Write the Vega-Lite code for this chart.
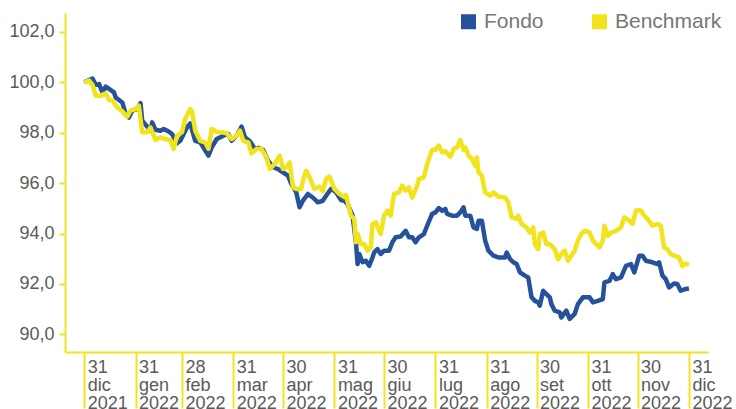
{
  "$schema": "https://vega.github.io/schema/vega-lite/v6.json",
  "width": 643,
  "height": 339,
  "autosize": {"type": "none"},
  "padding": {"left": 65, "top": 13, "right": 28, "bottom": 57},
  "background": "white",
  "config": {
    "view": {"stroke": null},
    "font": "Liberation Sans"
  },
  "data": {
    "values": [
      {"data": "2021-12-31", "serie": "Fondo", "valore": 100.0},
      {"data": "2022-01-05", "serie": "Fondo", "valore": 100.15},
      {"data": "2022-01-07", "serie": "Fondo", "valore": 99.9},
      {"data": "2022-01-09", "serie": "Fondo", "valore": 99.93},
      {"data": "2022-01-11", "serie": "Fondo", "valore": 99.6},
      {"data": "2022-01-13", "serie": "Fondo", "valore": 99.83},
      {"data": "2022-01-15", "serie": "Fondo", "valore": 99.74},
      {"data": "2022-01-18", "serie": "Fondo", "valore": 99.6},
      {"data": "2022-01-19", "serie": "Fondo", "valore": 99.4},
      {"data": "2022-01-23", "serie": "Fondo", "valore": 99.2},
      {"data": "2022-01-25", "serie": "Fondo", "valore": 98.75},
      {"data": "2022-01-27", "serie": "Fondo", "valore": 98.6},
      {"data": "2022-01-29", "serie": "Fondo", "valore": 98.88},
      {"data": "2022-02-01", "serie": "Fondo", "valore": 98.94},
      {"data": "2022-02-03", "serie": "Fondo", "valore": 99.17},
      {"data": "2022-02-04", "serie": "Fondo", "valore": 98.48},
      {"data": "2022-02-07", "serie": "Fondo", "valore": 98.24},
      {"data": "2022-02-09", "serie": "Fondo", "valore": 98.08},
      {"data": "2022-02-10", "serie": "Fondo", "valore": 98.41},
      {"data": "2022-02-12", "serie": "Fondo", "valore": 98.12},
      {"data": "2022-02-15", "serie": "Fondo", "valore": 98.08},
      {"data": "2022-02-17", "serie": "Fondo", "valore": 98.15},
      {"data": "2022-02-20", "serie": "Fondo", "valore": 98.05},
      {"data": "2022-02-22", "serie": "Fondo", "valore": 97.95},
      {"data": "2022-02-25", "serie": "Fondo", "valore": 97.58},
      {"data": "2022-02-27", "serie": "Fondo", "valore": 97.68},
      {"data": "2022-03-03", "serie": "Fondo", "valore": 98.21},
      {"data": "2022-03-05", "serie": "Fondo", "valore": 98.37},
      {"data": "2022-03-08", "serie": "Fondo", "valore": 97.68},
      {"data": "2022-03-11", "serie": "Fondo", "valore": 97.62},
      {"data": "2022-03-16", "serie": "Fondo", "valore": 97.09},
      {"data": "2022-03-18", "serie": "Fondo", "valore": 97.42},
      {"data": "2022-03-21", "serie": "Fondo", "valore": 97.75},
      {"data": "2022-03-25", "serie": "Fondo", "valore": 97.88},
      {"data": "2022-03-28", "serie": "Fondo", "valore": 97.95},
      {"data": "2022-03-30", "serie": "Fondo", "valore": 97.68},
      {"data": "2022-04-02", "serie": "Fondo", "valore": 97.88},
      {"data": "2022-04-05", "serie": "Fondo", "valore": 98.24},
      {"data": "2022-04-07", "serie": "Fondo", "valore": 97.82},
      {"data": "2022-04-10", "serie": "Fondo", "valore": 97.66},
      {"data": "2022-04-13", "serie": "Fondo", "valore": 97.36},
      {"data": "2022-04-15", "serie": "Fondo", "valore": 97.4},
      {"data": "2022-04-18", "serie": "Fondo", "valore": 97.32},
      {"data": "2022-04-21", "serie": "Fondo", "valore": 96.89},
      {"data": "2022-04-24", "serie": "Fondo", "valore": 96.63},
      {"data": "2022-04-27", "serie": "Fondo", "valore": 96.56},
      {"data": "2022-04-30", "serie": "Fondo", "valore": 96.43},
      {"data": "2022-05-03", "serie": "Fondo", "valore": 96.3},
      {"data": "2022-05-05", "serie": "Fondo", "valore": 95.97},
      {"data": "2022-05-08", "serie": "Fondo", "valore": 95.63},
      {"data": "2022-05-10", "serie": "Fondo", "valore": 95.04},
      {"data": "2022-05-12", "serie": "Fondo", "valore": 95.3},
      {"data": "2022-05-15", "serie": "Fondo", "valore": 95.57},
      {"data": "2022-05-18", "serie": "Fondo", "valore": 95.43},
      {"data": "2022-05-21", "serie": "Fondo", "valore": 95.24},
      {"data": "2022-05-24", "serie": "Fondo", "valore": 95.3},
      {"data": "2022-05-26", "serie": "Fondo", "valore": 95.5},
      {"data": "2022-05-29", "serie": "Fondo", "valore": 95.77},
      {"data": "2022-06-01", "serie": "Fondo", "valore": 95.64},
      {"data": "2022-06-04", "serie": "Fondo", "valore": 95.33},
      {"data": "2022-06-06", "serie": "Fondo", "valore": 95.3},
      {"data": "2022-06-08", "serie": "Fondo", "valore": 95.17},
      {"data": "2022-06-11", "serie": "Fondo", "valore": 94.71},
      {"data": "2022-06-13", "serie": "Fondo", "valore": 93.65},
      {"data": "2022-06-14", "serie": "Fondo", "valore": 92.79},
      {"data": "2022-06-15", "serie": "Fondo", "valore": 93.19},
      {"data": "2022-06-17", "serie": "Fondo", "valore": 92.86},
      {"data": "2022-06-19", "serie": "Fondo", "valore": 92.92},
      {"data": "2022-06-21", "serie": "Fondo", "valore": 92.72},
      {"data": "2022-06-23", "serie": "Fondo", "valore": 93.05},
      {"data": "2022-06-24", "serie": "Fondo", "valore": 93.25},
      {"data": "2022-06-26", "serie": "Fondo", "valore": 93.38},
      {"data": "2022-06-28", "serie": "Fondo", "valore": 93.19},
      {"data": "2022-06-30", "serie": "Fondo", "valore": 93.32},
      {"data": "2022-07-03", "serie": "Fondo", "valore": 93.32},
      {"data": "2022-07-05", "serie": "Fondo", "valore": 93.65},
      {"data": "2022-07-07", "serie": "Fondo", "valore": 93.85},
      {"data": "2022-07-10", "serie": "Fondo", "valore": 93.88},
      {"data": "2022-07-13", "serie": "Fondo", "valore": 94.11},
      {"data": "2022-07-15", "serie": "Fondo", "valore": 93.85},
      {"data": "2022-07-17", "serie": "Fondo", "valore": 93.85},
      {"data": "2022-07-19", "serie": "Fondo", "valore": 93.65},
      {"data": "2022-07-21", "serie": "Fondo", "valore": 93.85},
      {"data": "2022-07-24", "serie": "Fondo", "valore": 93.98},
      {"data": "2022-07-26", "serie": "Fondo", "valore": 94.31},
      {"data": "2022-07-29", "serie": "Fondo", "valore": 94.78},
      {"data": "2022-07-31", "serie": "Fondo", "valore": 94.84},
      {"data": "2022-08-02", "serie": "Fondo", "valore": 95.01},
      {"data": "2022-08-04", "serie": "Fondo", "valore": 94.9},
      {"data": "2022-08-06", "serie": "Fondo", "valore": 94.97},
      {"data": "2022-08-07", "serie": "Fondo", "valore": 94.78},
      {"data": "2022-08-10", "serie": "Fondo", "valore": 94.71},
      {"data": "2022-08-13", "serie": "Fondo", "valore": 94.71},
      {"data": "2022-08-15", "serie": "Fondo", "valore": 94.84},
      {"data": "2022-08-17", "serie": "Fondo", "valore": 95.04},
      {"data": "2022-08-18", "serie": "Fondo", "valore": 94.71},
      {"data": "2022-08-21", "serie": "Fondo", "valore": 94.71},
      {"data": "2022-08-23", "serie": "Fondo", "valore": 94.24},
      {"data": "2022-08-25", "serie": "Fondo", "valore": 94.18},
      {"data": "2022-08-26", "serie": "Fondo", "valore": 94.51},
      {"data": "2022-08-28", "serie": "Fondo", "valore": 94.51},
      {"data": "2022-08-30", "serie": "Fondo", "valore": 93.72},
      {"data": "2022-09-01", "serie": "Fondo", "valore": 93.32},
      {"data": "2022-09-04", "serie": "Fondo", "valore": 93.12},
      {"data": "2022-09-07", "serie": "Fondo", "valore": 93.05},
      {"data": "2022-09-11", "serie": "Fondo", "valore": 93.05},
      {"data": "2022-09-12", "serie": "Fondo", "valore": 93.25},
      {"data": "2022-09-14", "serie": "Fondo", "valore": 92.99},
      {"data": "2022-09-16", "serie": "Fondo", "valore": 92.86},
      {"data": "2022-09-18", "serie": "Fondo", "valore": 92.79},
      {"data": "2022-09-20", "serie": "Fondo", "valore": 92.46},
      {"data": "2022-09-23", "serie": "Fondo", "valore": 92.33},
      {"data": "2022-09-25", "serie": "Fondo", "valore": 92.26},
      {"data": "2022-09-27", "serie": "Fondo", "valore": 91.47},
      {"data": "2022-09-29", "serie": "Fondo", "valore": 91.33},
      {"data": "2022-10-01", "serie": "Fondo", "valore": 91.27},
      {"data": "2022-10-02", "serie": "Fondo", "valore": 91.14},
      {"data": "2022-10-04", "serie": "Fondo", "valore": 91.73},
      {"data": "2022-10-06", "serie": "Fondo", "valore": 91.6},
      {"data": "2022-10-08", "serie": "Fondo", "valore": 91.47},
      {"data": "2022-10-09", "serie": "Fondo", "valore": 91.2},
      {"data": "2022-10-11", "serie": "Fondo", "valore": 90.94},
      {"data": "2022-10-14", "serie": "Fondo", "valore": 90.87},
      {"data": "2022-10-15", "serie": "Fondo", "valore": 90.67},
      {"data": "2022-10-18", "serie": "Fondo", "valore": 90.94},
      {"data": "2022-10-20", "serie": "Fondo", "valore": 90.61},
      {"data": "2022-10-23", "serie": "Fondo", "valore": 90.81},
      {"data": "2022-10-25", "serie": "Fondo", "valore": 91.2},
      {"data": "2022-10-28", "serie": "Fondo", "valore": 91.47},
      {"data": "2022-11-01", "serie": "Fondo", "valore": 91.47},
      {"data": "2022-11-03", "serie": "Fondo", "valore": 91.27},
      {"data": "2022-11-06", "serie": "Fondo", "valore": 91.33},
      {"data": "2022-11-09", "serie": "Fondo", "valore": 91.4},
      {"data": "2022-11-10", "serie": "Fondo", "valore": 92.06},
      {"data": "2022-11-13", "serie": "Fondo", "valore": 92.12},
      {"data": "2022-11-15", "serie": "Fondo", "valore": 92.39},
      {"data": "2022-11-17", "serie": "Fondo", "valore": 92.19},
      {"data": "2022-11-20", "serie": "Fondo", "valore": 92.26},
      {"data": "2022-11-23", "serie": "Fondo", "valore": 92.72},
      {"data": "2022-11-26", "serie": "Fondo", "valore": 92.79},
      {"data": "2022-11-28", "serie": "Fondo", "valore": 92.46},
      {"data": "2022-12-01", "serie": "Fondo", "valore": 93.12},
      {"data": "2022-12-03", "serie": "Fondo", "valore": 93.12},
      {"data": "2022-12-05", "serie": "Fondo", "valore": 92.92},
      {"data": "2022-12-09", "serie": "Fondo", "valore": 92.86},
      {"data": "2022-12-12", "serie": "Fondo", "valore": 92.79},
      {"data": "2022-12-13", "serie": "Fondo", "valore": 92.86},
      {"data": "2022-12-15", "serie": "Fondo", "valore": 92.33},
      {"data": "2022-12-17", "serie": "Fondo", "valore": 92.19},
      {"data": "2022-12-19", "serie": "Fondo", "valore": 91.86},
      {"data": "2022-12-22", "serie": "Fondo", "valore": 92.02},
      {"data": "2022-12-24", "serie": "Fondo", "valore": 92.0},
      {"data": "2022-12-26", "serie": "Fondo", "valore": 91.73},
      {"data": "2022-12-29", "serie": "Fondo", "valore": 91.8},
      {"data": "2022-12-31", "serie": "Fondo", "valore": 91.82},
      {"data": "2021-12-31", "serie": "Benchmark", "valore": 100.0},
      {"data": "2022-01-03", "serie": "Benchmark", "valore": 100.07},
      {"data": "2022-01-05", "serie": "Benchmark", "valore": 99.9},
      {"data": "2022-01-07", "serie": "Benchmark", "valore": 99.47},
      {"data": "2022-01-10", "serie": "Benchmark", "valore": 99.47},
      {"data": "2022-01-13", "serie": "Benchmark", "valore": 99.56},
      {"data": "2022-01-15", "serie": "Benchmark", "valore": 99.3},
      {"data": "2022-01-17", "serie": "Benchmark", "valore": 99.28},
      {"data": "2022-01-20", "serie": "Benchmark", "valore": 99.0},
      {"data": "2022-01-23", "serie": "Benchmark", "valore": 98.85},
      {"data": "2022-01-26", "serie": "Benchmark", "valore": 98.64},
      {"data": "2022-01-28", "serie": "Benchmark", "valore": 98.88},
      {"data": "2022-01-31", "serie": "Benchmark", "valore": 98.94},
      {"data": "2022-02-02", "serie": "Benchmark", "valore": 99.07},
      {"data": "2022-02-04", "serie": "Benchmark", "valore": 98.02},
      {"data": "2022-02-07", "serie": "Benchmark", "valore": 98.02},
      {"data": "2022-02-09", "serie": "Benchmark", "valore": 98.21},
      {"data": "2022-02-12", "serie": "Benchmark", "valore": 97.71},
      {"data": "2022-02-15", "serie": "Benchmark", "valore": 97.82},
      {"data": "2022-02-18", "serie": "Benchmark", "valore": 97.75},
      {"data": "2022-02-21", "serie": "Benchmark", "valore": 97.71},
      {"data": "2022-02-23", "serie": "Benchmark", "valore": 97.36},
      {"data": "2022-02-25", "serie": "Benchmark", "valore": 97.88},
      {"data": "2022-02-28", "serie": "Benchmark", "valore": 98.02},
      {"data": "2022-03-02", "serie": "Benchmark", "valore": 98.55},
      {"data": "2022-03-05", "serie": "Benchmark", "valore": 98.94},
      {"data": "2022-03-06", "serie": "Benchmark", "valore": 98.88},
      {"data": "2022-03-08", "serie": "Benchmark", "valore": 98.08},
      {"data": "2022-03-11", "serie": "Benchmark", "valore": 97.68},
      {"data": "2022-03-14", "serie": "Benchmark", "valore": 97.62},
      {"data": "2022-03-16", "serie": "Benchmark", "valore": 97.36},
      {"data": "2022-03-18", "serie": "Benchmark", "valore": 98.15},
      {"data": "2022-03-21", "serie": "Benchmark", "valore": 98.02},
      {"data": "2022-03-24", "serie": "Benchmark", "valore": 98.02},
      {"data": "2022-03-27", "serie": "Benchmark", "valore": 97.98},
      {"data": "2022-03-30", "serie": "Benchmark", "valore": 97.75},
      {"data": "2022-04-02", "serie": "Benchmark", "valore": 97.88},
      {"data": "2022-04-04", "serie": "Benchmark", "valore": 98.08},
      {"data": "2022-04-06", "serie": "Benchmark", "valore": 97.68},
      {"data": "2022-04-09", "serie": "Benchmark", "valore": 97.62},
      {"data": "2022-04-11", "serie": "Benchmark", "valore": 97.18},
      {"data": "2022-04-14", "serie": "Benchmark", "valore": 97.36},
      {"data": "2022-04-17", "serie": "Benchmark", "valore": 97.36},
      {"data": "2022-04-20", "serie": "Benchmark", "valore": 97.02},
      {"data": "2022-04-22", "serie": "Benchmark", "valore": 96.56},
      {"data": "2022-04-25", "serie": "Benchmark", "valore": 96.76},
      {"data": "2022-04-28", "serie": "Benchmark", "valore": 97.09},
      {"data": "2022-04-30", "serie": "Benchmark", "valore": 96.56},
      {"data": "2022-05-02", "serie": "Benchmark", "valore": 96.63},
      {"data": "2022-05-04", "serie": "Benchmark", "valore": 96.82},
      {"data": "2022-05-06", "serie": "Benchmark", "valore": 95.83},
      {"data": "2022-05-08", "serie": "Benchmark", "valore": 95.77},
      {"data": "2022-05-11", "serie": "Benchmark", "valore": 95.77},
      {"data": "2022-05-12", "serie": "Benchmark", "valore": 96.1},
      {"data": "2022-05-14", "serie": "Benchmark", "valore": 96.49},
      {"data": "2022-05-16", "serie": "Benchmark", "valore": 96.23},
      {"data": "2022-05-19", "serie": "Benchmark", "valore": 95.77},
      {"data": "2022-05-22", "serie": "Benchmark", "valore": 95.86},
      {"data": "2022-05-24", "serie": "Benchmark", "valore": 95.68},
      {"data": "2022-05-26", "serie": "Benchmark", "valore": 96.16},
      {"data": "2022-05-28", "serie": "Benchmark", "valore": 96.26},
      {"data": "2022-05-31", "serie": "Benchmark", "valore": 95.77},
      {"data": "2022-06-03", "serie": "Benchmark", "valore": 95.57},
      {"data": "2022-06-06", "serie": "Benchmark", "valore": 95.44},
      {"data": "2022-06-07", "serie": "Benchmark", "valore": 95.53},
      {"data": "2022-06-10", "serie": "Benchmark", "valore": 94.71},
      {"data": "2022-06-12", "serie": "Benchmark", "valore": 94.58},
      {"data": "2022-06-13", "serie": "Benchmark", "valore": 93.65},
      {"data": "2022-06-14", "serie": "Benchmark", "valore": 93.98},
      {"data": "2022-06-16", "serie": "Benchmark", "valore": 93.58},
      {"data": "2022-06-18", "serie": "Benchmark", "valore": 93.58},
      {"data": "2022-06-20", "serie": "Benchmark", "valore": 93.32},
      {"data": "2022-06-22", "serie": "Benchmark", "valore": 93.45},
      {"data": "2022-06-23", "serie": "Benchmark", "valore": 94.38},
      {"data": "2022-06-25", "serie": "Benchmark", "valore": 94.44},
      {"data": "2022-06-27", "serie": "Benchmark", "valore": 94.11},
      {"data": "2022-06-28", "serie": "Benchmark", "valore": 93.98},
      {"data": "2022-06-30", "serie": "Benchmark", "valore": 94.71},
      {"data": "2022-07-02", "serie": "Benchmark", "valore": 94.91},
      {"data": "2022-07-04", "serie": "Benchmark", "valore": 94.71},
      {"data": "2022-07-06", "serie": "Benchmark", "valore": 95.57},
      {"data": "2022-07-09", "serie": "Benchmark", "valore": 95.63},
      {"data": "2022-07-11", "serie": "Benchmark", "valore": 95.9},
      {"data": "2022-07-13", "serie": "Benchmark", "valore": 95.7},
      {"data": "2022-07-15", "serie": "Benchmark", "valore": 95.83},
      {"data": "2022-07-17", "serie": "Benchmark", "valore": 95.43},
      {"data": "2022-07-20", "serie": "Benchmark", "valore": 95.9},
      {"data": "2022-07-21", "serie": "Benchmark", "valore": 96.16},
      {"data": "2022-07-24", "serie": "Benchmark", "valore": 96.23},
      {"data": "2022-07-26", "serie": "Benchmark", "valore": 96.76},
      {"data": "2022-07-29", "serie": "Benchmark", "valore": 97.32},
      {"data": "2022-07-31", "serie": "Benchmark", "valore": 97.32},
      {"data": "2022-08-02", "serie": "Benchmark", "valore": 97.49},
      {"data": "2022-08-04", "serie": "Benchmark", "valore": 97.22},
      {"data": "2022-08-06", "serie": "Benchmark", "valore": 97.26},
      {"data": "2022-08-09", "serie": "Benchmark", "valore": 97.05},
      {"data": "2022-08-11", "serie": "Benchmark", "valore": 97.36},
      {"data": "2022-08-13", "serie": "Benchmark", "valore": 97.42},
      {"data": "2022-08-15", "serie": "Benchmark", "valore": 97.71},
      {"data": "2022-08-17", "serie": "Benchmark", "valore": 97.32},
      {"data": "2022-08-18", "serie": "Benchmark", "valore": 97.42},
      {"data": "2022-08-20", "serie": "Benchmark", "valore": 97.09},
      {"data": "2022-08-22", "serie": "Benchmark", "valore": 96.96},
      {"data": "2022-08-24", "serie": "Benchmark", "valore": 96.69},
      {"data": "2022-08-25", "serie": "Benchmark", "valore": 97.02},
      {"data": "2022-08-26", "serie": "Benchmark", "valore": 96.43},
      {"data": "2022-08-28", "serie": "Benchmark", "valore": 96.3},
      {"data": "2022-08-30", "serie": "Benchmark", "valore": 95.63},
      {"data": "2022-09-02", "serie": "Benchmark", "valore": 95.5},
      {"data": "2022-09-04", "serie": "Benchmark", "valore": 95.63},
      {"data": "2022-09-07", "serie": "Benchmark", "valore": 95.46},
      {"data": "2022-09-11", "serie": "Benchmark", "valore": 95.43},
      {"data": "2022-09-13", "serie": "Benchmark", "valore": 95.24},
      {"data": "2022-09-15", "serie": "Benchmark", "valore": 94.64},
      {"data": "2022-09-18", "serie": "Benchmark", "valore": 94.58},
      {"data": "2022-09-19", "serie": "Benchmark", "valore": 94.71},
      {"data": "2022-09-21", "serie": "Benchmark", "valore": 94.38},
      {"data": "2022-09-24", "serie": "Benchmark", "valore": 94.24},
      {"data": "2022-09-26", "serie": "Benchmark", "valore": 94.04},
      {"data": "2022-09-28", "serie": "Benchmark", "valore": 94.24},
      {"data": "2022-09-29", "serie": "Benchmark", "valore": 93.58},
      {"data": "2022-10-01", "serie": "Benchmark", "valore": 93.38},
      {"data": "2022-10-02", "serie": "Benchmark", "valore": 93.98},
      {"data": "2022-10-04", "serie": "Benchmark", "valore": 94.04},
      {"data": "2022-10-06", "serie": "Benchmark", "valore": 93.58},
      {"data": "2022-10-08", "serie": "Benchmark", "valore": 93.58},
      {"data": "2022-10-11", "serie": "Benchmark", "valore": 93.38},
      {"data": "2022-10-13", "serie": "Benchmark", "valore": 92.98},
      {"data": "2022-10-15", "serie": "Benchmark", "valore": 93.19},
      {"data": "2022-10-17", "serie": "Benchmark", "valore": 93.32},
      {"data": "2022-10-19", "serie": "Benchmark", "valore": 92.92},
      {"data": "2022-10-21", "serie": "Benchmark", "valore": 93.12},
      {"data": "2022-10-23", "serie": "Benchmark", "valore": 93.32},
      {"data": "2022-10-25", "serie": "Benchmark", "valore": 93.72},
      {"data": "2022-10-27", "serie": "Benchmark", "valore": 93.98},
      {"data": "2022-10-29", "serie": "Benchmark", "valore": 94.11},
      {"data": "2022-11-01", "serie": "Benchmark", "valore": 94.05},
      {"data": "2022-11-03", "serie": "Benchmark", "valore": 93.72},
      {"data": "2022-11-05", "serie": "Benchmark", "valore": 93.58},
      {"data": "2022-11-07", "serie": "Benchmark", "valore": 93.45},
      {"data": "2022-11-09", "serie": "Benchmark", "valore": 93.72},
      {"data": "2022-11-10", "serie": "Benchmark", "valore": 94.31},
      {"data": "2022-11-12", "serie": "Benchmark", "valore": 93.91},
      {"data": "2022-11-14", "serie": "Benchmark", "valore": 94.04},
      {"data": "2022-11-17", "serie": "Benchmark", "valore": 94.11},
      {"data": "2022-11-20", "serie": "Benchmark", "valore": 94.24},
      {"data": "2022-11-22", "serie": "Benchmark", "valore": 94.64},
      {"data": "2022-11-25", "serie": "Benchmark", "valore": 94.51},
      {"data": "2022-11-27", "serie": "Benchmark", "valore": 94.38},
      {"data": "2022-11-29", "serie": "Benchmark", "valore": 94.91},
      {"data": "2022-12-02", "serie": "Benchmark", "valore": 94.91},
      {"data": "2022-12-04", "serie": "Benchmark", "valore": 94.71},
      {"data": "2022-12-06", "serie": "Benchmark", "valore": 94.58},
      {"data": "2022-12-09", "serie": "Benchmark", "valore": 94.31},
      {"data": "2022-12-12", "serie": "Benchmark", "valore": 94.38},
      {"data": "2022-12-14", "serie": "Benchmark", "valore": 94.31},
      {"data": "2022-12-16", "serie": "Benchmark", "valore": 93.45},
      {"data": "2022-12-18", "serie": "Benchmark", "valore": 93.38},
      {"data": "2022-12-20", "serie": "Benchmark", "valore": 93.19},
      {"data": "2022-12-22", "serie": "Benchmark", "valore": 93.12},
      {"data": "2022-12-25", "serie": "Benchmark", "valore": 93.05},
      {"data": "2022-12-27", "serie": "Benchmark", "valore": 92.72},
      {"data": "2022-12-29", "serie": "Benchmark", "valore": 92.81},
      {"data": "2022-12-31", "serie": "Benchmark", "valore": 92.76}
    ]
  },
  "mark": {"type": "line", "strokeWidth": 4.5, "strokeJoin": "round", "strokeCap": "butt"},
  "encoding": {
    "x": {
      "field": "data",
      "type": "temporal",
      "scale": {
        "type": "utc",
        "domain": [
          {"year": 2021, "month": 12, "date": 19, "hours": 10, "utc": true},
          {"year": 2023, "month": 1, "date": 11, "hours": 12, "utc": true}
        ]
      },
      "axis": {
        "title": null,
        "values": [
          {"year": 2021, "month": 12, "date": 31, "utc": true},
          {"year": 2022, "month": 1, "date": 31, "utc": true},
          {"year": 2022, "month": 2, "date": 28, "utc": true},
          {"year": 2022, "month": 3, "date": 31, "utc": true},
          {"year": 2022, "month": 4, "date": 30, "utc": true},
          {"year": 2022, "month": 5, "date": 31, "utc": true},
          {"year": 2022, "month": 6, "date": 30, "utc": true},
          {"year": 2022, "month": 7, "date": 31, "utc": true},
          {"year": 2022, "month": 8, "date": 31, "utc": true},
          {"year": 2022, "month": 9, "date": 30, "utc": true},
          {"year": 2022, "month": 10, "date": 31, "utc": true},
          {"year": 2022, "month": 11, "date": 30, "utc": true},
          {"year": 2022, "month": 12, "date": 31, "utc": true}
        ],
        "labelExpr": "[utcFormat(datum.value, '%d'), ['gen','feb','mar','apr','mag','giu','lug','ago','set','ott','nov','dic'][utcmonth(datum.value)], utcFormat(datum.value, '%Y')]",
        "grid": false,
        "domainColor": "#f2e420",
        "domainWidth": 2,
        "tickColor": "#f2e420",
        "tickWidth": 2,
        "tickSize": 56,
        "labelAlign": "left",
        "labelBaseline": "top",
        "labelOffset": 3,
        "labelPadding": -50,
        "labelFontSize": 18,
        "labelLineHeight": 18,
        "labelColor": "#5a5a5a",
        "labelFont": "Liberation Sans",
        "labelOverlap": false,
        "labelFlush": false,
        "labelBound": false
      }
    },
    "y": {
      "field": "valore",
      "type": "quantitative",
      "scale": {"domain": [89.3, 102.75], "nice": false, "zero": false},
      "axis": {
        "title": null,
        "values": [90, 92, 94, 96, 98, 100, 102],
        "labelExpr": "replace(format(datum.value, '.1f'), '.', ',')",
        "grid": false,
        "domainColor": "#f2e420",
        "domainWidth": 2,
        "tickColor": "#f2e420",
        "tickWidth": 2,
        "tickSize": 6,
        "labelPadding": 5,
        "labelFontSize": 18,
        "labelColor": "#5a5a5a",
        "labelFont": "Liberation Sans"
      }
    },
    "color": {
      "field": "serie",
      "type": "nominal",
      "sort": ["Fondo", "Benchmark"],
      "scale": {"domain": ["Fondo", "Benchmark"], "range": ["#26529c", "#f2e41c"]},
      "legend": {
        "title": null,
        "orient": "none",
        "legendX": 393,
        "legendY": -2,
        "direction": "horizontal",
        "symbolType": "square",
        "symbolSize": 225,
        "symbolStrokeWidth": 0,
        "labelFontSize": 21,
        "labelColor": "#777777",
        "labelFont": "Liberation Sans",
        "labelOffset": 5,
        "columnPadding": 45,
        "encode": {
          "symbols": {
            "update": {
              "fill": {"scale": "color", "field": "value"},
              "strokeWidth": {"value": 0},
              "shape": {"value": "square"},
              "size": {"value": 225}
            }
          }
        }
      }
    }
  }
}
